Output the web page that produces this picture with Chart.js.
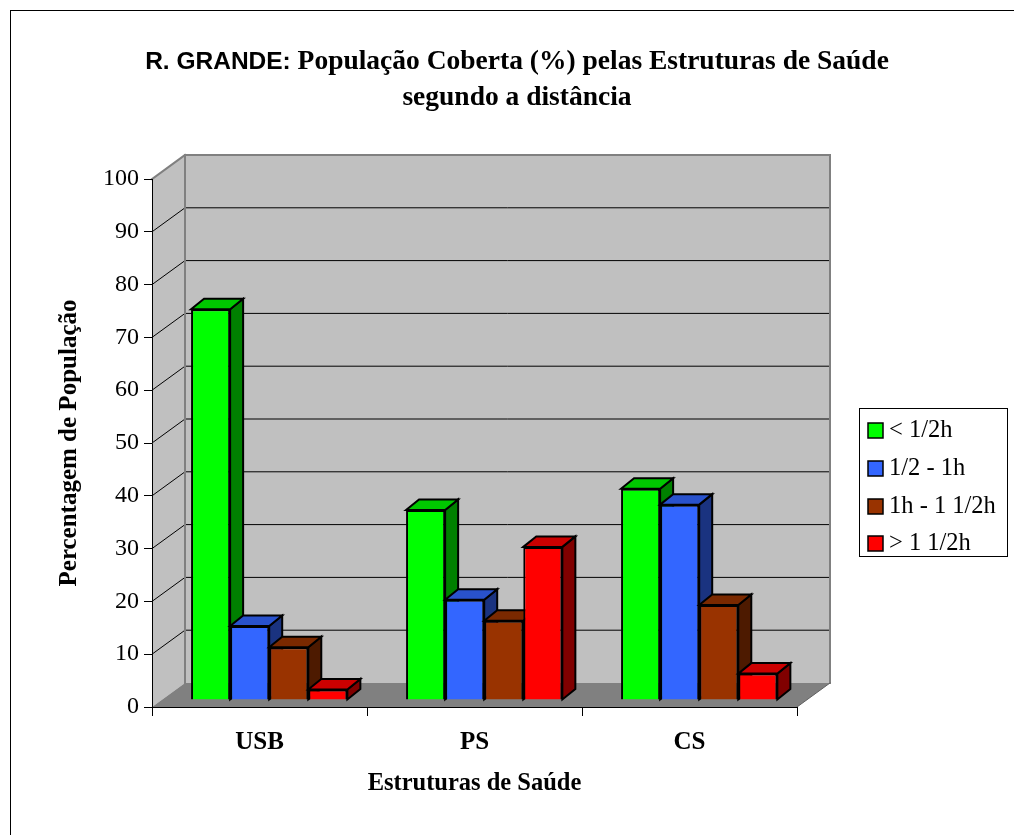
<!DOCTYPE html>
<html>
<head>
<meta charset="utf-8">
<script src="https://cdn.jsdelivr.net/npm/chart.js@4.4.1/dist/chart.umd.min.js"></script>
<style>
html,body{margin:0;padding:0;background:#fff;}
#wrap{width:1014px;height:835px;position:relative;}
</style>
</head>
<body>
<div id="wrap"><canvas id="c" width="1014" height="835"></canvas></div>
<script>
// ---- data ----
const categories = ['USB', 'PS', 'CS'];
const seriesLabels = ['< 1/2h', '1/2 - 1h', '1h - 1 1/2h', '> 1 1/2h'];
const lessThanHalfHour = [74, 36, 40];
const halfToOneHour = [14, 19, 37];
const oneToOneAndHalfHour = [10, 15, 18];
const moreThanOneAndHalfHour = [2, 29, 5];
const yTickValues = [0, 10, 20, 30, 40, 50, 60, 70, 80, 90, 100];
const titlePrefix = 'R. GRANDE: ';
const titleLine1 = 'População Coberta (%) pelas Estruturas de Saúde';
const titleLine2 = 'segundo a distância';
const xTitle = 'Estruturas de Saúde';
const yTitle = 'Percentagem de População';

// ---- styles ----
const frontColors = ['#00ff00', '#3366ff', '#993300', '#ff0000'];
const topColors = ['#00c800', '#2952cc', '#7a2900', '#cc0000'];
const sideColors = ['#008000', '#1a3380', '#4d1a00', '#800000'];
const WALL_DX = 33, WALL_DY = -24;
const BAR_SHIFT_X = 9.7, BAR_SHIFT_Y = -7;
const BAR_DX = 13, BAR_DY = -10.5;
const SERIF = '"Liberation Serif", "Times New Roman", serif';
const SANS = '"Liberation Sans", Arial, sans-serif';

const seriesValues = [lessThanHalfHour, halfToOneHour, oneToOneAndHalfHour, moreThanOneAndHalfHour];

function poly(ctx, pts, fill, stroke, lw) {
  ctx.beginPath();
  ctx.moveTo(pts[0][0], pts[0][1]);
  for (let i = 1; i < pts.length; i++) ctx.lineTo(pts[i][0], pts[i][1]);
  ctx.closePath();
  if (fill) { ctx.fillStyle = fill; ctx.fill(); }
  if (stroke) { ctx.strokeStyle = stroke; ctx.lineWidth = lw || 1; ctx.stroke(); }
}
function line(ctx, x1, y1, x2, y2, color, lw) {
  ctx.beginPath();
  ctx.moveTo(x1, y1); ctx.lineTo(x2, y2);
  ctx.strokeStyle = color; ctx.lineWidth = lw; ctx.stroke();
}

const threeD = {
  id: 'threeD',
  beforeDraw(chart) {
    const ctx = chart.ctx;
    const {left, right, top, bottom} = chart.chartArea;
    const ys = chart.scales.y;
    ctx.save();
    ctx.fillStyle = '#fff';
    ctx.fillRect(0, 0, chart.width, chart.height);
    // outer frame
    ctx.strokeStyle = '#000'; ctx.lineWidth = 1;
    ctx.strokeRect(10.5, 10.5, chart.width + 20, chart.height + 20);
    // walls
    const bl = left + WALL_DX, br = right + WALL_DX, bt = top + WALL_DY, bb = bottom + WALL_DY;
    poly(ctx, [[left, top], [bl, bt], [bl, bb], [left, bottom]], '#c0c0c0');
    poly(ctx, [[bl, bt], [br, bt], [br, bb], [bl, bb]], '#c0c0c0');
    poly(ctx, [[left, bottom], [bl, bb], [br, bb], [right, bottom]], '#808080');
    // gridlines
    yTickValues.forEach(v => {
      if (v === 0 || v === 100) return;
      const py = ys.getPixelForValue(v);
      line(ctx, bl, py + WALL_DY, br, py + WALL_DY, '#000', 1);
      line(ctx, left, py, bl, py + WALL_DY, '#000', 1);
    });
    // wall edges
    ctx.lineCap = 'square';
    line(ctx, left, top, bl, bt, '#808080', 2);
    line(ctx, bl, bt, br, bt, '#808080', 2);
    line(ctx, bl, bt, bl, bb, '#808080', 2);
    line(ctx, br, bt, br, bb, '#808080', 2);
    line(ctx, right, bottom, br, bb, '#606060', 1);
    ctx.restore();
  },
  beforeDatasetDraw() { return false; },
  afterDatasetsDraw(chart) {
    const ctx = chart.ctx;
    ctx.save();
    ctx.translate(BAR_SHIFT_X, BAR_SHIFT_Y);
    ctx.lineJoin = 'miter';
    chart.data.datasets.forEach((ds, i) => {
      const meta = chart.getDatasetMeta(i);
      meta.data.forEach(el => {
        const {x, y, base, width} = el.getProps(['x', 'y', 'base', 'width'], true);
        const xl = x - width / 2, xr = x + width / 2;
        poly(ctx, [[xr, y], [xr + BAR_DX, y + BAR_DY], [xr + BAR_DX, base + BAR_DY], [xr, base]], sideColors[i], '#000', 2);
        poly(ctx, [[xl, y], [xl + BAR_DX, y + BAR_DY], [xr + BAR_DX, y + BAR_DY], [xr, y]], topColors[i], '#000', 2);
        el.draw(ctx, chart.chartArea);
      });
    });
    ctx.restore();
  },
  afterDraw(chart) {
    const ctx = chart.ctx;
    ctx.save();
    ctx.fillStyle = '#000';
    ctx.textBaseline = 'middle';
    const cx = 517;
    ctx.font = 'bold 24.5px ' + SANS;
    const w1 = ctx.measureText(titlePrefix).width;
    ctx.font = 'bold 27.5px ' + SERIF;
    const w2 = ctx.measureText(titleLine1).width;
    let sx = cx - (w1 + w2) / 2;
    ctx.textAlign = 'left';
    ctx.font = 'bold 24.5px ' + SANS;
    ctx.fillText(titlePrefix, sx, 62);
    ctx.font = 'bold 27.5px ' + SERIF;
    ctx.fillText(titleLine1, sx + w1, 62);
    ctx.textAlign = 'center';
    ctx.fillText(titleLine2, cx, 98);
    // legend
    ctx.strokeStyle = '#000'; ctx.lineWidth = 1;
    ctx.strokeRect(859.5, 408.5, 148, 148);
    ctx.textAlign = 'left';
    ctx.font = '24.5px ' + SERIF;
    const rowY = [430, 468, 506, 543];
    seriesLabels.forEach((lab, i) => {
      ctx.fillStyle = frontColors[i];
      ctx.fillRect(868, rowY[i] - 7, 15, 15);
      ctx.strokeStyle = '#000'; ctx.lineWidth = 1.5;
      ctx.strokeRect(868, rowY[i] - 7, 15, 15);
      ctx.fillStyle = '#000';
      ctx.fillText(lab, 889, rowY[i] + 1);
    });
    ctx.restore();
  }
};

new Chart(document.getElementById('c'), {
  type: 'bar',
  data: {
    labels: categories,
    datasets: seriesValues.map((vals, i) => ({
      label: seriesLabels[i],
      data: vals,
      backgroundColor: frontColors[i],
      borderColor: '#000',
      borderWidth: 2,
      categoryPercentage: 0.727,
      barPercentage: 1.0
    }))
  },
  options: {
    responsive: false,
    animation: false,
    devicePixelRatio: 1,
    layout: {padding: {left: 0, right: 217, top: 179, bottom: 33}},
    plugins: {legend: {display: false}, title: {display: false}, tooltip: {enabled: false}},
    scales: {
      x: {
        offset: true,
        grid: {display: true, drawOnChartArea: false, drawTicks: true, tickLength: 9, color: '#000', offset: true},
        border: {display: true, color: '#000', width: 1},
        ticks: {color: '#000', font: {family: SERIF, size: 25, weight: 'bold'}, padding: 12, maxRotation: 0},
        title: {display: true, text: xTitle, color: '#000', font: {family: SERIF, size: 24.5, weight: 'bold', lineHeight: 1.2}, padding: {top: 0, bottom: 3.6}},
        afterFit(s) { s.height = 95; }
      },
      y: {
        min: 0, max: 100,
        afterBuildTicks(s) { s.ticks = yTickValues.map(v => ({value: v})); },
        grid: {display: true, drawOnChartArea: false, drawTicks: true, tickLength: 8, color: '#000'},
        border: {display: true, color: '#000', width: 1},
        ticks: {color: '#000', font: {family: SERIF, size: 24}, padding: 5},
        title: {display: true, text: yTitle, color: '#000', font: {family: SERIF, size: 25, weight: 'bold', lineHeight: 1.2}, padding: {top: 55, bottom: 0}},
        afterFit(s) { s.width = 152; }
      }
    }
  },
  plugins: [threeD]
});
</script>
</body>
</html>
